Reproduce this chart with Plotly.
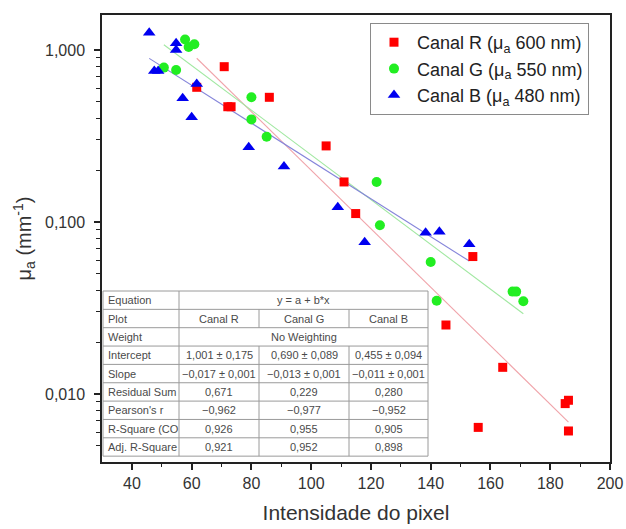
import numpy as np
import plotly.graph_objects as go

# ---------------- data ----------------
r_x = [61.7, 70.9, 72.1, 73.2, 86.0, 105.0, 111.0, 114.9, 154.1, 145.1, 164.1, 185.0, 186.1, 155.9, 186.1]
r_y = [0.607, 0.80, 0.468, 0.468, 0.531, 0.277, 0.171, 0.112, 0.063, 0.0252, 0.0143, 0.0088, 0.0092, 0.0064, 0.0061]

g_x = [50.7, 54.8, 57.8, 59.0, 60.9, 80.0, 80.0, 85.1, 121.9, 123.0, 140.0, 142.0, 167.4, 168.6, 171.0]
g_y = [0.79, 0.765, 1.15, 1.04, 1.08, 0.531, 0.395, 0.313, 0.171, 0.0957, 0.0585, 0.0349, 0.0394, 0.0394, 0.0346]

b_x = [45.8, 54.8, 54.8, 47.5, 48.8, 61.7, 57.0, 60.0, 79.1, 90.9, 108.9, 117.9, 138.3, 142.9, 152.9]
b_y = [1.26, 1.094, 1.0, 0.755, 0.755, 0.634, 0.524, 0.406, 0.272, 0.21, 0.122, 0.0762, 0.0867, 0.0879, 0.0742]

series_names = ["Canal R (μ<sub>a</sub> 600 nm)", "Canal G (μ<sub>a</sub> 550 nm)", "Canal B (μ<sub>a</sub> 480 nm)"]

# linear fit of log10(y) = a + b*x (values from the table)
fit_intercept = [1.001, 0.690, 0.455]
fit_slope = [-0.017, -0.013, -0.011]

x_ticks = [40, 60, 80, 100, 120, 140, 160, 180, 200]
y_ticks = [0.01, 0.1, 1.0]
y_ticktext = ["0,010", "0,100", "1,000"]

table_rows = ["Equation", "Plot", "Weight", "Intercept", "Slope", "Residual Sum",
              "Pearson's r", "R-Square (CO", "Adj. R-Square"]
table_equation = "y = a + b*x"
table_weight = "No Weighting"
table_plot = ["Canal R", "Canal G", "Canal B"]
table_intercept = ["1,001 ± 0,175", "0,690 ± 0,089", "0,455 ± 0,094"]
table_slope = ["−0,017 ± 0,001", "−0,013 ± 0,001", "−0,011 ± 0,001"]
table_rss = ["0,671", "0,229", "0,280"]
table_pearson = ["−0,962", "−0,977", "−0,952"]
table_r2 = ["0,926", "0,955", "0,905"]
table_adjr2 = ["0,921", "0,952", "0,898"]

# ---------------- styling ----------------
marker_colors = ["#ff0000", "#22ee22", "#0000f0"]
line_colors = ["#f0a4aa", "#a2e8a2", "#8585da"]
symbols = ["square", "circle", "triangle-up"]
sizes = [9, 10, 11]

W, H = 626, 529
ML, MR, MT, MB = 102, 16, 15, 67
PW, PH = W - ML - MR, H - MT - MB

fig = go.Figure()

xs = [r_x, g_x, b_x]
ys = [r_y, g_y, b_y]

for i in range(3):
    xl = np.array([min(xs[i]), max(xs[i])])
    yl = 10 ** (fit_intercept[i] + fit_slope[i] * xl)
    fig.add_trace(go.Scatter(x=xl, y=yl, mode="lines", showlegend=False,
                             line=dict(color=line_colors[i], width=1.1), hoverinfo="skip"))

for i in range(3):
    fig.add_trace(go.Scatter(x=xs[i], y=ys[i], mode="markers", name=series_names[i],
                             marker=dict(symbol=symbols[i], size=sizes[i], color=marker_colors[i],
                                         line=dict(width=0))))

# ---------------- table drawn with shapes/annotations ----------------
def px2x(px):
    return (px - ML) / PW

def py2y(py):
    return (H - MB - py) / PH

t_left, t_right = 103, 428
col_edges = [103, 179, 259, 349, 428]
t_top, row_h = 291, 18.35
n_rows = len(table_rows)
t_bot = t_top + n_rows * row_h
grid_color = "#9a9a9a"

shapes = [dict(type="rect", xref="paper", yref="paper", x0=px2x(t_left), x1=px2x(t_right),
               y0=py2y(t_bot), y1=py2y(t_top), fillcolor="white", line=dict(color=grid_color, width=1),
               layer="above")]
for k in range(1, n_rows):
    yy = py2y(t_top + k * row_h)
    shapes.append(dict(type="line", xref="paper", yref="paper", x0=px2x(t_left), x1=px2x(t_right),
                       y0=yy, y1=yy, line=dict(color=grid_color, width=1), layer="above"))
shapes.append(dict(type="line", xref="paper", yref="paper", x0=px2x(col_edges[1]), x1=px2x(col_edges[1]),
                   y0=py2y(t_top), y1=py2y(t_bot), line=dict(color=grid_color, width=1), layer="above"))
merged_rows = [0, 2]
for k in range(n_rows):
    if k in merged_rows:
        continue
    for ce in col_edges[2:4]:
        shapes.append(dict(type="line", xref="paper", yref="paper", x0=px2x(ce), x1=px2x(ce),
                           y0=py2y(t_top + k * row_h), y1=py2y(t_top + (k + 1) * row_h),
                           line=dict(color=grid_color, width=1), layer="above"))

annotations = []
tfont = dict(family="Liberation Sans, Arial, sans-serif", size=11, color="#4a4a4a")
for k, lab in enumerate(table_rows):
    annotations.append(dict(xref="paper", yref="paper", x=px2x(col_edges[0] + 3),
                            y=py2y(t_top + (k + 0.5) * row_h), text=lab, showarrow=False,
                            xanchor="left", yanchor="middle", font=tfont))
row_values = [None, table_plot, None, table_intercept, table_slope, table_rss,
              table_pearson, table_r2, table_adjr2]
merged_text = {0: table_equation, 2: table_weight}
for k in range(n_rows):
    yc = py2y(t_top + (k + 0.5) * row_h)
    if k in merged_text:
        annotations.append(dict(xref="paper", yref="paper", x=px2x((col_edges[1] + col_edges[4]) / 2),
                                y=yc, text=merged_text[k], showarrow=False, xanchor="center",
                                yanchor="middle", font=tfont))
    else:
        for c in range(3):
            annotations.append(dict(xref="paper", yref="paper",
                                    x=px2x((col_edges[c + 1] + col_edges[c + 2]) / 2), y=yc,
                                    text=row_values[k][c], showarrow=False, xanchor="center",
                                    yanchor="middle", font=tfont))

minor_y = [m * 10.0 ** e for e in (-3, -2, -1) for m in range(2, 10)]

fig.update_layout(
    width=W, height=H,
    margin=dict(l=ML, r=MR, t=MT, b=MB, autoexpand=False),
    paper_bgcolor="white", plot_bgcolor="white",
    font=dict(family="Liberation Sans, Arial, sans-serif", color="#333333"),
    shapes=shapes, annotations=annotations,
    legend=dict(x=px2x(370), y=py2y(23), xanchor="left", yanchor="top",
                bordercolor="#8a8a8a", borderwidth=1, bgcolor="white", itemwidth=36,
                font=dict(size=18, color="#222222"), tracegroupgap=2),
    xaxis=dict(range=[30, 200], tickvals=x_ticks, ticks="outside", ticklen=6, tickwidth=1.5,
               tickcolor="#222", showline=True, linecolor="#222", linewidth=1.5, mirror=True,
               showgrid=False, zeroline=False, tickfont=dict(size=16, color="#333"),
               minor=dict(tickvals=[50, 70, 90, 110, 130, 150, 170, 190], ticks="outside",
                          ticklen=3, tickwidth=1.2, tickcolor="#222", showgrid=False),
               title=dict(text="Intensidade do pixel", font=dict(size=21, color="#333"), standoff=14)),
    yaxis=dict(type="log", range=[-2.395, 0.2035], tickvals=y_ticks, ticktext=y_ticktext,
               ticks="outside", ticklen=6, tickwidth=1.5, tickcolor="#222", ticklabelstandoff=6,
               showline=True, linecolor="#222", linewidth=1.5, mirror=True,
               showgrid=False, zeroline=False, tickfont=dict(size=16, color="#333"),
               minor=dict(tickvals=minor_y, ticks="outside", ticklen=4, tickwidth=1.2,
                          tickcolor="#222", showgrid=False),
               title=dict(text="μ<sub>a</sub> (mm<sup>-1</sup>)", font=dict(size=20, color="#333"),
                          standoff=8)),
)

fig.write_html("out.html")
